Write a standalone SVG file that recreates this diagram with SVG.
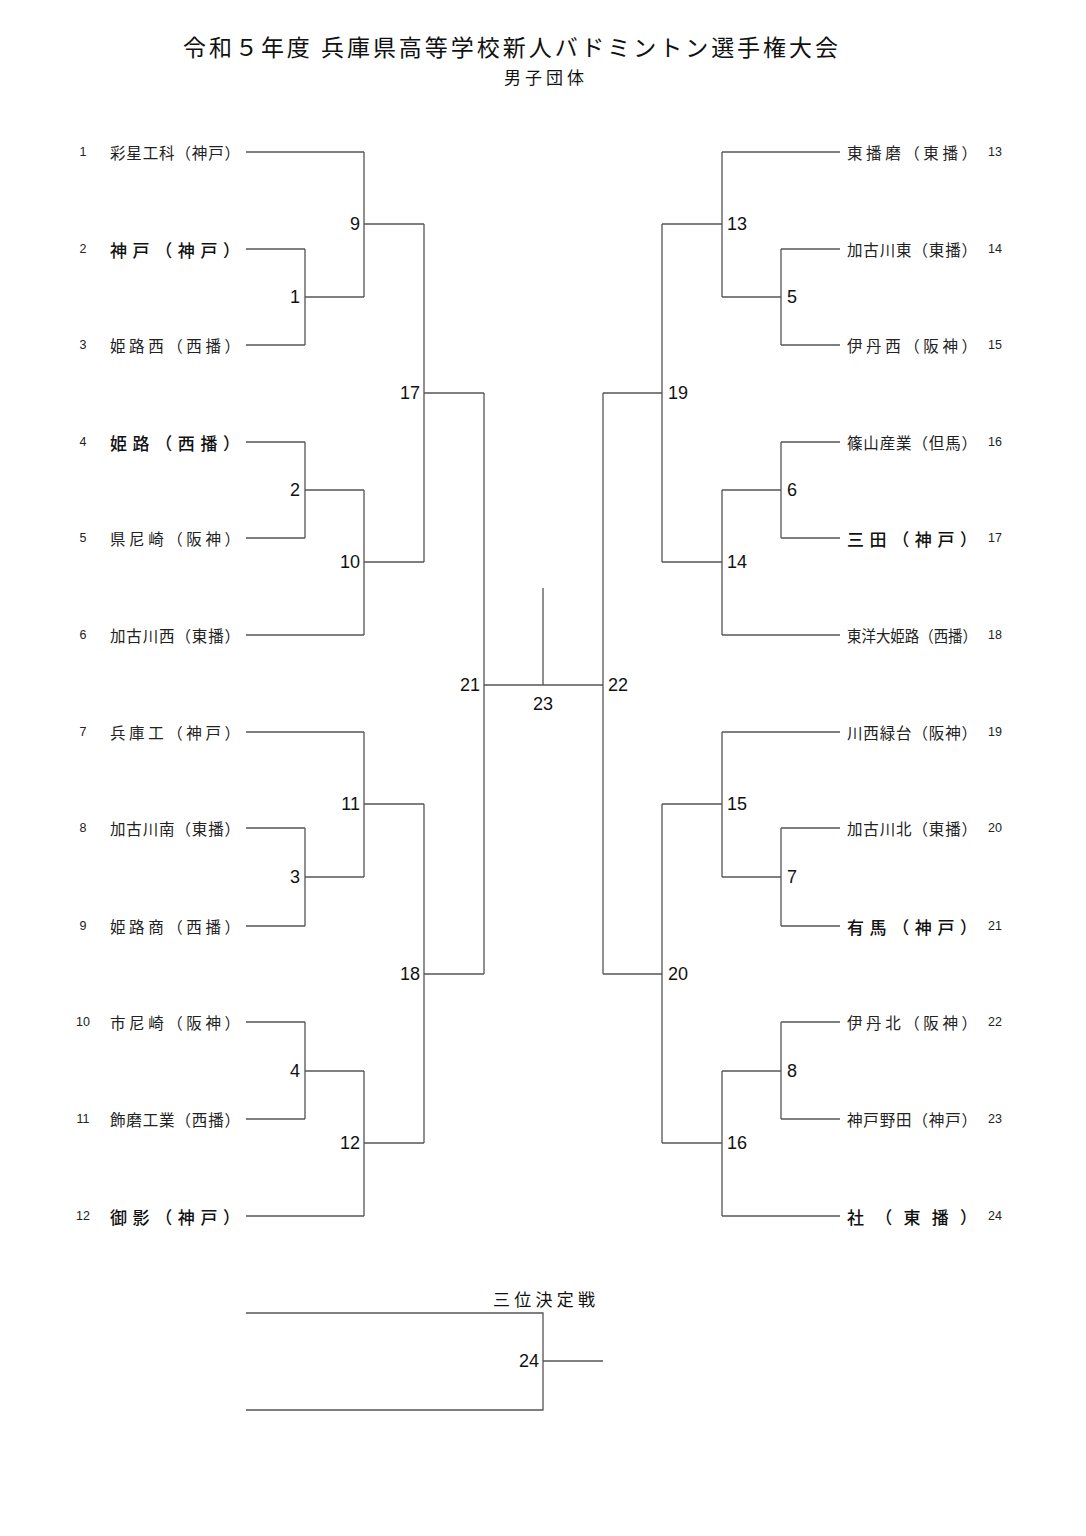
<svg xmlns="http://www.w3.org/2000/svg" width="1086" height="1536" viewBox="0 0 1086 1536">
<style>
.bg{fill:#fff}
.ln{stroke:#555;stroke-width:1.3;fill:none}
.ttl{font-family:"Noto Sans CJK JP","Liberation Sans",sans-serif;font-size:23px;fill:#111}
.sub{font-family:"Noto Sans CJK JP","Liberation Sans",sans-serif;font-size:17px;fill:#111}
.nm{font-family:"Noto Sans CJK JP","Liberation Sans",sans-serif;font-size:15.5px;fill:#222;dominant-baseline:central}
.nb{font-family:"Noto Sans CJK JP","Liberation Sans",sans-serif;font-size:17px;font-weight:500;fill:#111;dominant-baseline:central}
.sd{font-family:"Liberation Sans",sans-serif;font-size:12.5px;fill:#222;dominant-baseline:central;text-anchor:middle}
.mr{font-family:"Liberation Sans",sans-serif;font-size:18px;fill:#111;dominant-baseline:central;text-anchor:end}
.ml{font-family:"Liberation Sans",sans-serif;font-size:18px;fill:#111;dominant-baseline:central;text-anchor:start}
.mc{font-family:"Liberation Sans",sans-serif;font-size:18px;fill:#111;dominant-baseline:central;text-anchor:middle}
</style>
<rect class="bg" x="0" y="0" width="1086" height="1536"/>
<g id="title">
<text class="ttl" x="183" y="56" textLength="655" lengthAdjust="spacing">令和５年度 兵庫県高等学校新人バドミントン選手権大会</text>
<text class="sub" x="504" y="84" textLength="80" lengthAdjust="spacing">男子団体</text>
</g>
<g id="connectors">
<path class="ln" d="M246 152H364M246 249H305M246 345H305M246 442H305M246 538H305M246 635H364M246 732H364M246 828H305M246 926H305M246 1022H305M246 1119H305M246 1216H364"/>
<path class="ln" d="M305 249V345M305 297H364M305 442V538M305 490H364M305 828V926M305 877H364M305 1022V1119M305 1071H364"/>
<path class="ln" d="M364 152V297M364 224H424M364 490V635M364 562H424M364 732V877M364 804H424M364 1071V1216M364 1143H424"/>
<path class="ln" d="M424 224V562M424 393H484M424 804V1143M424 974H484"/>
<path class="ln" d="M484 393V974M484 685H603M543 588V685"/>
<path class="ln" d="M840 152H722M840 249H781M840 345H781M840 442H781M840 538H781M840 635H722M840 732H722M840 828H781M840 926H781M840 1022H781M840 1119H781M840 1216H722"/>
<path class="ln" d="M781 249V345M781 297H722M781 442V538M781 490H722M781 828V926M781 877H722M781 1022V1119M781 1071H722"/>
<path class="ln" d="M722 152V297M722 224H662M722 490V635M722 562H662M722 732V877M722 804H662M722 1071V1216M722 1143H662"/>
<path class="ln" d="M662 224V562M662 393H603M662 804V1143M662 974H603"/>
<path class="ln" d="M603 393V974"/>
<path class="ln" d="M246 1313H543V1410H246M543 1361H603"/>
</g>
<g id="seeds-left">
<text class="sd" x="83" y="152">1</text>
<text class="sd" x="83" y="249">2</text>
<text class="sd" x="83" y="345">3</text>
<text class="sd" x="83" y="442">4</text>
<text class="sd" x="83" y="538">5</text>
<text class="sd" x="83" y="635">6</text>
<text class="sd" x="83" y="732">7</text>
<text class="sd" x="83" y="828">8</text>
<text class="sd" x="83" y="926">9</text>
<text class="sd" x="83" y="1022">10</text>
<text class="sd" x="83" y="1119">11</text>
<text class="sd" x="83" y="1216">12</text>
</g>
<g id="teams-left">
<text id="t1" class="nm" x="110" y="152" textLength="130" lengthAdjust="spacing">彩星工科（神戸）</text>
<text id="t2" class="nb" x="110" y="249" textLength="130" lengthAdjust="spacing">神戸（神戸）</text>
<text id="t3" class="nm" x="110" y="345" textLength="130" lengthAdjust="spacing">姫路西（西播）</text>
<text id="t4" class="nb" x="110" y="442" textLength="130" lengthAdjust="spacing">姫路（西播）</text>
<text id="t5" class="nm" x="110" y="538" textLength="130" lengthAdjust="spacing">県尼崎（阪神）</text>
<text id="t6" class="nm" x="110" y="635" textLength="130" lengthAdjust="spacing">加古川西（東播）</text>
<text id="t7" class="nm" x="110" y="732" textLength="130" lengthAdjust="spacing">兵庫工（神戸）</text>
<text id="t8" class="nm" x="110" y="828" textLength="130" lengthAdjust="spacing">加古川南（東播）</text>
<text id="t9" class="nm" x="110" y="926" textLength="130" lengthAdjust="spacing">姫路商（西播）</text>
<text id="t10" class="nm" x="110" y="1022" textLength="130" lengthAdjust="spacing">市尼崎（阪神）</text>
<text id="t11" class="nm" x="110" y="1119" textLength="130" lengthAdjust="spacing">飾磨工業（西播）</text>
<text id="t12" class="nb" x="110" y="1216" textLength="130" lengthAdjust="spacing">御影（神戸）</text>
</g>
<g id="teams-right">
<text id="t13" class="nm" x="847" y="152" textLength="130" lengthAdjust="spacing">東播磨（東播）</text>
<text id="t14" class="nm" x="847" y="249" textLength="130" lengthAdjust="spacing">加古川東（東播）</text>
<text id="t15" class="nm" x="847" y="345" textLength="130" lengthAdjust="spacing">伊丹西（阪神）</text>
<text id="t16" class="nm" x="847" y="442" textLength="130" lengthAdjust="spacing">篠山産業（但馬）</text>
<text id="t17" class="nb" x="847" y="538" textLength="130" lengthAdjust="spacing">三田（神戸）</text>
<text id="t18" class="nm" x="847" y="635" textLength="130" lengthAdjust="spacingAndGlyphs">東洋大姫路（西播）</text>
<text id="t19" class="nm" x="847" y="732" textLength="130" lengthAdjust="spacing">川西緑台（阪神）</text>
<text id="t20" class="nm" x="847" y="828" textLength="130" lengthAdjust="spacing">加古川北（東播）</text>
<text id="t21" class="nb" x="847" y="926" textLength="130" lengthAdjust="spacing">有馬（神戸）</text>
<text id="t22" class="nm" x="847" y="1022" textLength="130" lengthAdjust="spacing">伊丹北（阪神）</text>
<text id="t23" class="nm" x="847" y="1119" textLength="130" lengthAdjust="spacing">神戸野田（神戸）</text>
<text id="t24" class="nb" x="847" y="1216" textLength="130" lengthAdjust="spacing">社（東播）</text>
</g>
<g id="seeds-right">
<text class="sd" x="995" y="152">13</text>
<text class="sd" x="995" y="249">14</text>
<text class="sd" x="995" y="345">15</text>
<text class="sd" x="995" y="442">16</text>
<text class="sd" x="995" y="538">17</text>
<text class="sd" x="995" y="635">18</text>
<text class="sd" x="995" y="732">19</text>
<text class="sd" x="995" y="828">20</text>
<text class="sd" x="995" y="926">21</text>
<text class="sd" x="995" y="1022">22</text>
<text class="sd" x="995" y="1119">23</text>
<text class="sd" x="995" y="1216">24</text>
</g>
<g id="matches">
<text class="mr" x="300" y="297">1</text>
<text class="mr" x="300" y="490">2</text>
<text class="mr" x="300" y="877">3</text>
<text class="mr" x="300" y="1071">4</text>
<text class="mr" x="360" y="224">9</text>
<text class="mr" x="360" y="562">10</text>
<text class="mr" x="360" y="804">11</text>
<text class="mr" x="360" y="1143">12</text>
<text class="mr" x="420" y="393">17</text>
<text class="mr" x="420" y="974">18</text>
<text class="mr" x="480" y="685">21</text>
<text class="mc" x="543" y="704">23</text>
<text class="ml" x="608" y="685">22</text>
<text class="ml" x="668" y="393">19</text>
<text class="ml" x="668" y="974">20</text>
<text class="ml" x="727" y="224">13</text>
<text class="ml" x="727" y="562">14</text>
<text class="ml" x="727" y="804">15</text>
<text class="ml" x="727" y="1143">16</text>
<text class="ml" x="787" y="297">5</text>
<text class="ml" x="787" y="490">6</text>
<text class="ml" x="787" y="877">7</text>
<text class="ml" x="787" y="1071">8</text>
</g>
<g id="third-place">
<text class="sub" x="493" y="1306" textLength="102" lengthAdjust="spacing">三位決定戦</text>
<text class="mr" x="539" y="1361">24</text>
</g>
</svg>
